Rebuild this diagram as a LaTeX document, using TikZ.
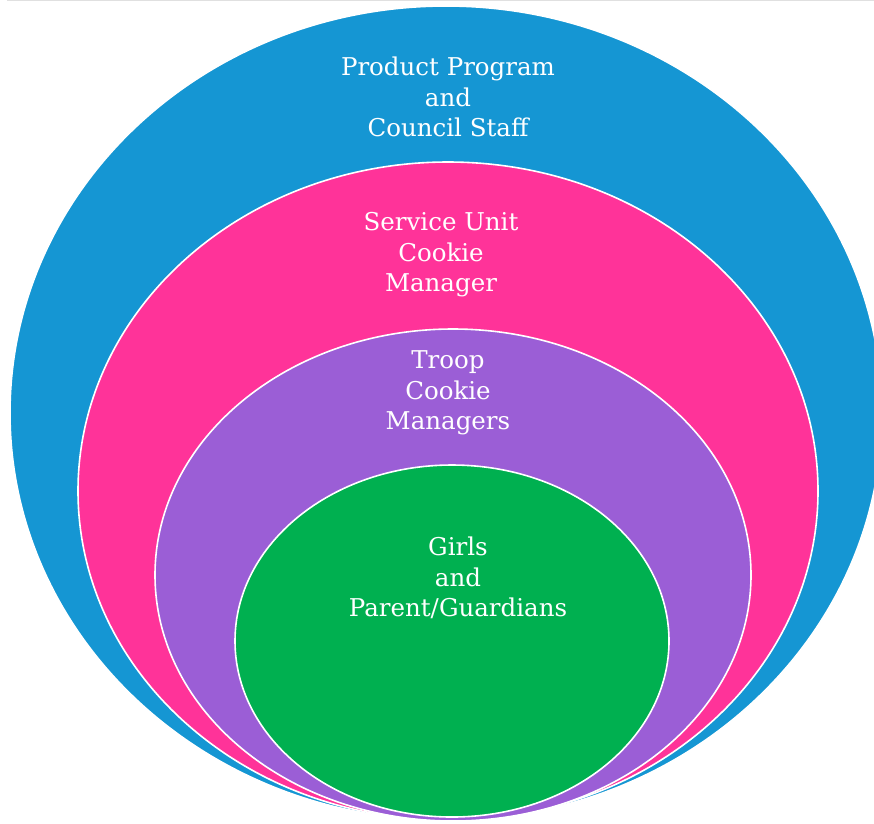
\documentclass[tikz,border=0pt]{standalone}
\usepackage{fontspec}
\setmainfont{DejaVu Serif}
\definecolor{ringblue}{RGB}{21,150,211}
\definecolor{ringpink}{RGB}{255,51,153}
\definecolor{ringpurple}{RGB}{155,94,214}
\definecolor{ringgreen}{RGB}{0,176,80}
\begin{document}
\begin{tikzpicture}[x=1pt,y=-1pt,
  ring/.style={draw=white,line width=1.6pt},
  label/.style={text=white,align=center,font=\fontsize{24.5}{30.5}\selectfont}]
\useasboundingbox (0,0) rectangle (874,823);
\clip (0,0) rectangle (874,823);
\fill[white] (0,0) rectangle (874,823);
% thin rule along the top edge
\draw[black!12,line width=1pt] (7,0.6) -- (874,0.6);
% nested rings, all resting on the same bottom point
\filldraw[ring,fill=ringblue]   (446,413) ellipse [x radius=436,y radius=407];
\filldraw[ring,fill=ringpink]   (448,491) ellipse [x radius=370,y radius=329];
\filldraw[ring,fill=ringpurple] (453,575) ellipse [x radius=298,y radius=246];
\filldraw[ring,fill=ringgreen]  (452,641) ellipse [x radius=217,y radius=176];
% ring labels
\node[label] (council) at (448,97)  {Product Program\\and\\Council Staff};
\node[label] (unit)    at (441,255) {Service Unit\\Cookie\\Manager};
\node[label] (troop)   at (448,393) {Troop\\Cookie\\Managers};
\node[label] (girls)   at (458,578) {Girls\\and\\Parent/Guardians};
\end{tikzpicture}
\end{document}
